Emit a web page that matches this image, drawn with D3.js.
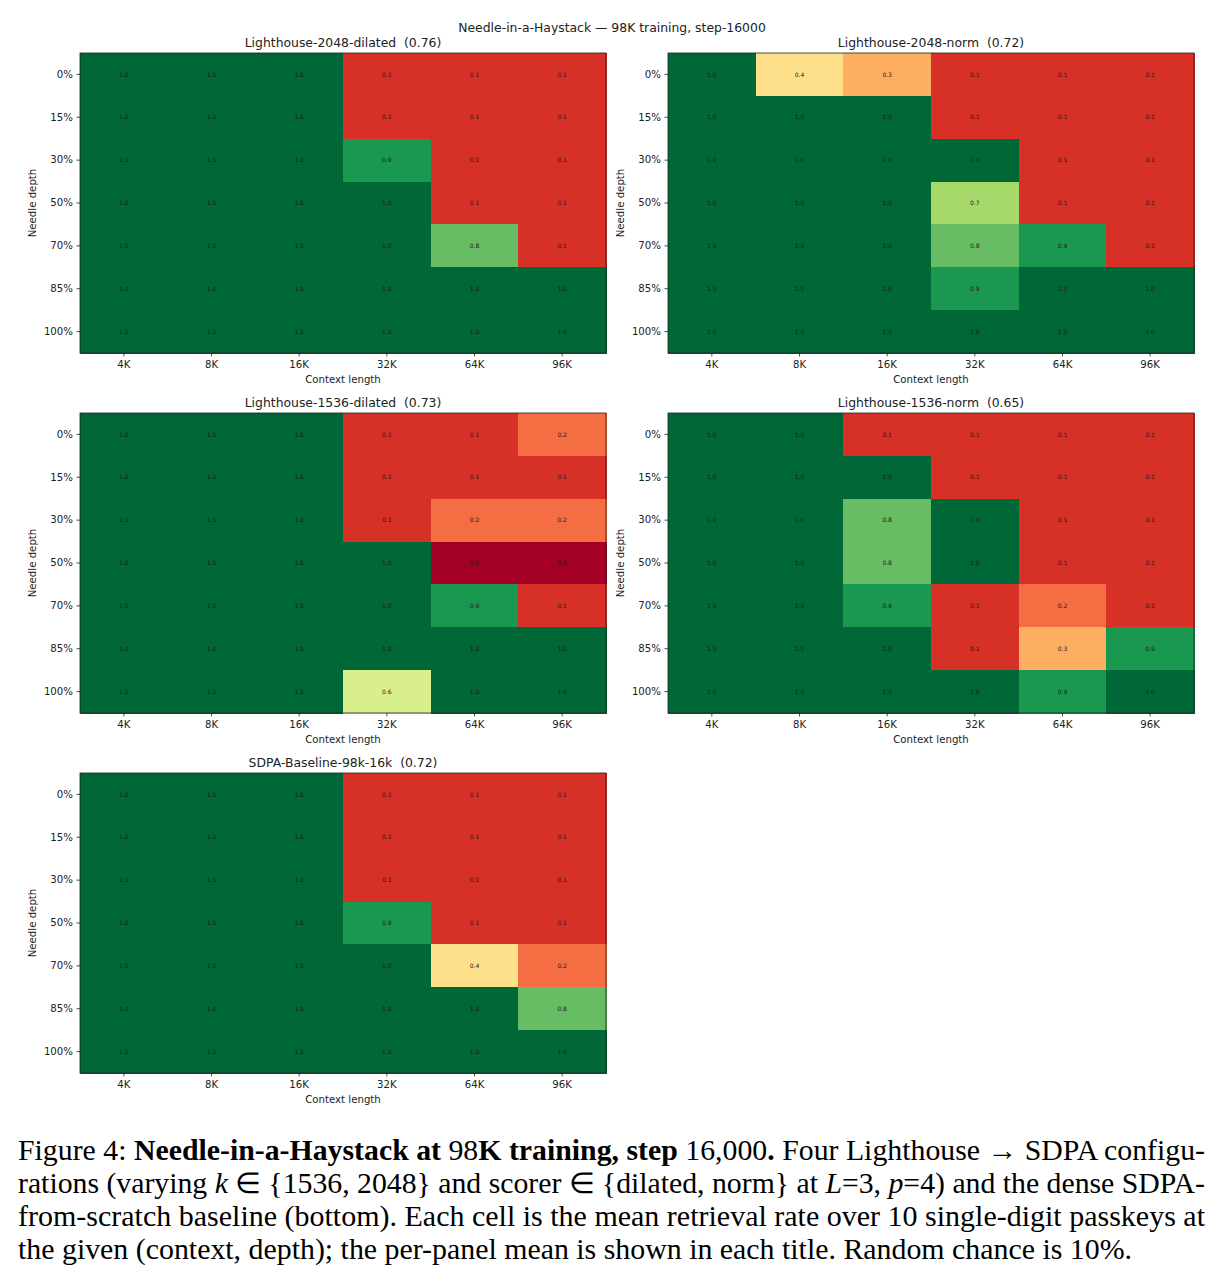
<!DOCTYPE html>
<html>
<head>
<meta charset="utf-8">
<script src="https://cdn.jsdelivr.net/npm/d3@7"></script>
<style>
  body { margin: 0; background: #fff; }
  svg { display: block; }
  text { white-space: pre; }
</style>
</head>
<body>
<svg id="fig" width="1222" height="1280"></svg>
<script>
(function () {
    'use strict';

    // data
    var contexts = ['4K', '8K', '16K', '32K', '64K', '96K'];
    var depths = ['0%', '15%', '30%', '50%', '70%', '85%', '100%'];
    var panelTitles = [
        'Lighthouse-2048-dilated  (0.76)',
        'Lighthouse-2048-norm  (0.72)',
        'Lighthouse-1536-dilated  (0.73)',
        'Lighthouse-1536-norm  (0.65)',
        'SDPA-Baseline-98k-16k  (0.72)'
    ];
    var lh2048Dilated = [
        [1, 1, 1, 0.1, 0.1, 0.1],
        [1, 1, 1, 0.1, 0.1, 0.1],
        [1, 1, 1, 0.9, 0.1, 0.1],
        [1, 1, 1, 1, 0.1, 0.1],
        [1, 1, 1, 1, 0.8, 0.1],
        [1, 1, 1, 1, 1, 1],
        [1, 1, 1, 1, 1, 1]
    ];
    var lh2048Norm = [
        [1, 0.4, 0.3, 0.1, 0.1, 0.1],
        [1, 1, 1, 0.1, 0.1, 0.1],
        [1, 1, 1, 1, 0.1, 0.1],
        [1, 1, 1, 0.7, 0.1, 0.1],
        [1, 1, 1, 0.8, 0.9, 0.1],
        [1, 1, 1, 0.9, 1, 1],
        [1, 1, 1, 1, 1, 1]
    ];
    var lh1536Dilated = [
        [1, 1, 1, 0.1, 0.1, 0.2],
        [1, 1, 1, 0.1, 0.1, 0.1],
        [1, 1, 1, 0.1, 0.2, 0.2],
        [1, 1, 1, 1, 0, 0],
        [1, 1, 1, 1, 0.9, 0.1],
        [1, 1, 1, 1, 1, 1],
        [1, 1, 1, 0.6, 1, 1]
    ];
    var lh1536Norm = [
        [1, 1, 0.1, 0.1, 0.1, 0.1],
        [1, 1, 1, 0.1, 0.1, 0.1],
        [1, 1, 0.8, 1, 0.1, 0.1],
        [1, 1, 0.8, 1, 0.1, 0.1],
        [1, 1, 0.9, 0.1, 0.2, 0.1],
        [1, 1, 1, 0.1, 0.3, 0.9],
        [1, 1, 1, 1, 0.9, 1]
    ];
    var sdpaBaseline = [
        [1, 1, 1, 0.1, 0.1, 0.1],
        [1, 1, 1, 0.1, 0.1, 0.1],
        [1, 1, 1, 0.1, 0.1, 0.1],
        [1, 1, 1, 0.9, 0.1, 0.1],
        [1, 1, 1, 1, 0.4, 0.2],
        [1, 1, 1, 1, 1, 0.8],
        [1, 1, 1, 1, 1, 1]
    ];
    var panels = [lh2048Dilated, lh2048Norm, lh1536Dilated, lh1536Norm, sdpaBaseline];

    var svg = d3.select('#fig');
    var font = 'DejaVu Sans, sans-serif';

    // matplotlib-like RdYlGn: linear between the 11 anchor colours
    var anchors = d3.schemeRdYlGn[11];
    var color = d3.scaleLinear()
        .domain(d3.range(11).map(function (i) { return i / 10; }))
        .range(anchors)
        .interpolate(d3.interpolateRgb)
        .clamp(true);

    // suptitle
    svg.append('text')
        .attr('x', 612).attr('y', 32)
        .attr('text-anchor', 'middle')
        .style('font-family', font).style('font-size', '12.4px')
        .attr('fill', '#222')
        .text('Needle-in-a-Haystack \u2014 98K training, step-16000');

    var panelW = 526, panelH = 300;
    var lefts = [80, 668];
    var tops = [53, 413, 773];

    panels.forEach(function (grid, p) {
        var left = lefts[p % 2], top = tops[Math.floor(p / 2)];
        var g = svg.append('g').attr('transform', 'translate(' + left + ',' + top + ')');

        var x = d3.scaleBand().domain(contexts).range([0, panelW]);
        var y = d3.scaleBand().domain(depths).range([0, panelH]);

        var cells = [];
        grid.forEach(function (row, r) {
            row.forEach(function (v, c) {
                cells.push({ depth: depths[r], ctx: contexts[c], v: v });
            });
        });

        g.selectAll('rect.cell')
            .data(cells).enter()
            .append('rect')
            .attr('class', 'cell')
            .attr('x', function (d) { return x(d.ctx); })
            .attr('y', function (d) { return y(d.depth); })
            .attr('width', x.bandwidth() + 1)
            .attr('height', y.bandwidth() + 1)
            .attr('shape-rendering', 'crispEdges')
            .attr('fill', function (d) { return color(d.v); });

        g.selectAll('text.val')
            .data(cells).enter()
            .append('text')
            .attr('class', 'val')
            .attr('x', function (d) { return x(d.ctx) + x.bandwidth() / 2; })
            .attr('y', function (d) { return y(d.depth) + y.bandwidth() / 2; })
            .attr('dy', '0.35em')
            .attr('text-anchor', 'middle')
            .style('font-family', font).style('font-size', '6px')
            .attr('fill', '#1a1a1a')
            .text(function (d) { return d.v.toFixed(1); });

        // frame
        g.append('rect')
            .attr('width', panelW).attr('height', panelH)
            .attr('fill', 'none').attr('stroke', '#222').attr('stroke-width', 0.8);

        var xAxis = g.append('g')
            .attr('transform', 'translate(0,' + panelH + ')')
            .call(d3.axisBottom(x).tickSize(3.5).tickPadding(4.5));
        var yAxis = g.append('g')
            .call(d3.axisLeft(y).tickSize(3.5).tickPadding(3.5));
        [xAxis, yAxis].forEach(function (a) {
            a.select('.domain').remove();
            a.selectAll('line').attr('stroke', '#222').attr('stroke-width', 0.8);
            a.selectAll('text')
                .style('font-family', font).style('font-size', '10.2px')
                .attr('fill', '#222');
        });

        g.append('text')
            .attr('x', panelW / 2).attr('y', panelH + 30)
            .attr('text-anchor', 'middle')
            .style('font-family', font).style('font-size', '10.2px')
            .attr('fill', '#222')
            .text('Context length');

        g.append('text')
            .attr('transform', 'translate(' + (-44) + ',' + (panelH / 2) + ') rotate(-90)')
            .attr('text-anchor', 'middle')
            .style('font-family', font).style('font-size', '10.2px')
            .attr('fill', '#222')
            .text('Needle depth');

        g.append('text')
            .attr('x', panelW / 2).attr('y', -6)
            .attr('text-anchor', 'middle')
            .style('font-family', font).style('font-size', '12.4px')
            .attr('fill', '#222')
            .text(panelTitles[p]);
    });

    // caption
    var serif = '"Liberation Serif", "Times New Roman", serif';
    var captionLines = [
        [['Figure 4: ', ''], ['Needle-in-a-Haystack at ', 'b'], ['98', ''], ['K training, step ', 'b'], ['16,000', ''], ['.', 'b'], [' Four Lighthouse \u2192 SDPA configu-', '']],
        [['rations (varying ', ''], ['k', 'i'], [' \u2208 {1536, 2048} and scorer \u2208 {dilated, norm} at ', ''], ['L', 'i'], ['=3, ', ''], ['p', 'i'], ['=4) and the dense SDPA-', '']],
        [['from-scratch baseline (bottom). Each cell is the mean retrieval rate over 10 single-digit passkeys at', '']],
        [['the given (context, depth); the per-panel mean is shown in each title. Random chance is 10%.', '']]
    ];
    var lineY = [1160, 1193, 1226, 1259];
    var lineLen = [1187, 1187, 1187, 1114];
    captionLines.forEach(function (parts, i) {
        var t = svg.append('text')
            .attr('x', 18).attr('y', lineY[i])
            .style('font-family', serif).style('font-size', '29px')
            .style('white-space', 'normal')
            .attr('fill', '#000')
            .attr('textLength', lineLen[i])
            .attr('lengthAdjust', 'spacingAndGlyphs');
        parts.forEach(function (pt) {
            var s = t.append('tspan').text(pt[0]);
            if (pt[1] === 'b') s.style('font-weight', 'bold');
            if (pt[1] === 'i') s.style('font-style', 'italic');
        });
    });
})();
</script>
</body>
</html>
